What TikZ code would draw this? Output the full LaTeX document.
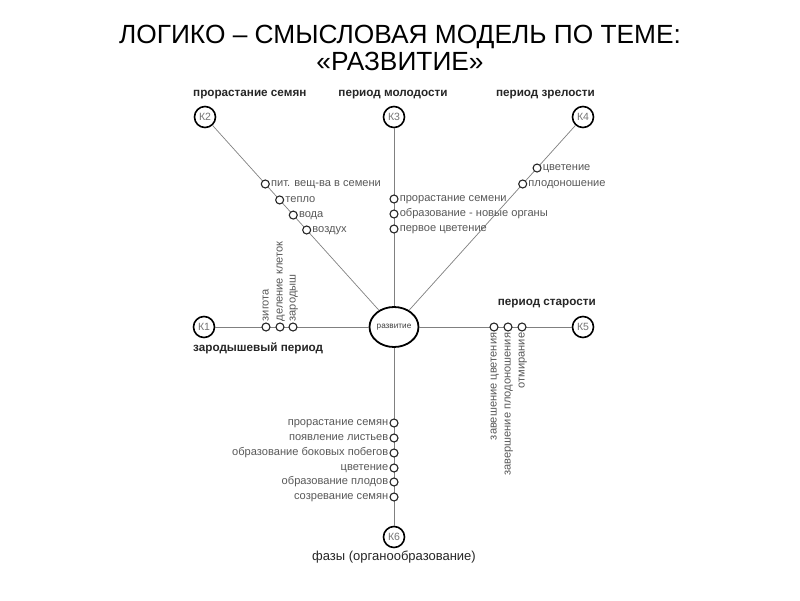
\documentclass[tikz,border=0pt]{standalone}
\usepackage{fontspec}
\setmainfont{Liberation Sans}
\usetikzlibrary{calc,shapes.geometric}
\tikzset{
  knode/.style={circle,draw=black,line width=1.6pt,minimum size=21pt,inner sep=0pt,fill=white,text=black!55,font=\fontsize{10.5}{12}\selectfont},
  dot/.style={circle,draw=black!85,line width=1.1pt,minimum size=8pt,inner sep=0pt,fill=white},
  conn/.style={draw=black!50,line width=0.7pt},
  lbl/.style={text=black!65,font=\fontsize{11.1}{13}\selectfont,inner sep=1pt},
  head/.style={text=black!85,font=\bfseries\fontsize{11.7}{13}\selectfont,inner sep=0pt},
}
\begin{document}
\begin{tikzpicture}[x=1pt,y=-1pt]
\useasboundingbox[fill=white] (0,0) rectangle (800,600);
\node[font=\fontsize{26.3}{27}\selectfont,align=center,text=black] (title) at (400,48) {ЛОГИКО – СМЫСЛОВАЯ МОДЕЛЬ ПО ТЕМЕ:\\«РАЗВИТИЕ»};

\node[ellipse,draw=black,line width=1.8pt,minimum width=46pt,minimum height=40pt,inner sep=0pt,fill=white,font=\fontsize{8.2}{9}\selectfont,text=black!75] (C) at (394,327) {развитие};
\node[knode] (K1) at (204,327) {К1};
\node[knode] (K2) at (205,117) {К2};
\node[knode] (K3) at (394,117) {К3};
\node[knode] (K4) at (583,117) {К4};
\node[knode] (K5) at (583,327) {К5};
\node[knode] (K6) at (394,537) {К6};

\draw[conn] (C) -- (K1);
\draw[conn] (C) -- (K2);
\draw[conn] (C) -- (K3);
\draw[conn] (C) -- (K4);
\draw[conn] (C) -- (K5);
\draw[conn] (C) -- (K6);

% headings
\node[head,anchor=west] (h2) at (193,95) {прорастание семян};
\node[head] (h3) at (393,95) {период молодости};
\node[head,anchor=east] (h4) at (595,95) {период зрелости};
\node[head,anchor=west] (h1) at (193,348) {зародышевый период};
\node[head,anchor=east] (h5) at (596,304) {период старости};
\node[text=black!85,font=\fontsize{13}{15}\selectfont,inner sep=0pt] (h6) at (394,557) {фазы (органообразование)};

% K2 line dots
\node[dot] (a1) at ($(K2)!0.319!(C)$) {};
\node[dot] (a2) at ($(K2)!0.395!(C)$) {};
\node[dot] (a3) at ($(K2)!0.467!(C)$) {};
\node[dot] (a4) at ($(K2)!0.538!(C)$) {};
\node[lbl,anchor=mid west] (la1) at (a1.east) {пит. вещ-ва в семени};
\node[lbl,anchor=mid west] (la2) at (a2.east) {тепло};
\node[lbl,anchor=mid west] (la3) at (a3.east) {вода};
\node[lbl,anchor=mid west] (la4) at (a4.east) {воздух};

% K3 line dots
\node[dot] (b1) at (394,199) {};
\node[dot] (b2) at (394,214) {};
\node[dot] (b3) at (394,229) {};
\node[lbl,anchor=mid west] (lb1) at (b1.east) {прорастание семени};
\node[lbl,anchor=mid west] (lb2) at (b2.east) {образование - новые органы};
\node[lbl,anchor=mid west] (lb3) at (b3.east) {первое цветение};

% K4 line dots
\node[dot] (c1) at ($(K4)!0.243!(C)$) {};
\node[dot] (c2) at ($(K4)!0.319!(C)$) {};
\node[lbl,anchor=mid west] (lc1) at (c1.east) {цветение};
\node[lbl,anchor=mid west] (lc2) at (c2.east) {плодоношение};

% K1 line dots
\node[dot] (d1) at (266,327) {};
\node[dot] (d2) at (280,327) {};
\node[dot] (d3) at (293,327) {};
\node[lbl,rotate=90,anchor=mid west] (ld1) at (d1.north) {зигота};
\node[lbl,rotate=90,anchor=mid west] (ld2) at (d2.north) {деление клеток};
\node[lbl,rotate=90,anchor=mid west] (ld3) at (d3.north) {зародыш};

% K5 line dots
\node[dot] (e1) at (494,327) {};
\node[dot] (e2) at (508,327) {};
\node[dot] (e3) at (522,327) {};
\node[lbl,rotate=90,anchor=mid east] (le1) at (e1.south) {завешение цветения};
\node[lbl,rotate=90,anchor=mid east] (le2) at (e2.south) {завершение плодоношения};
\node[lbl,rotate=90,anchor=mid east] (le3) at (e3.south) {отмирание};

% K6 line dots
\node[dot] (f1) at (394,423) {};
\node[dot] (f2) at (394,438) {};
\node[dot] (f3) at (394,453) {};
\node[dot] (f4) at (394,468) {};
\node[dot] (f5) at (394,482) {};
\node[dot] (f6) at (394,497) {};
\node[lbl,anchor=mid east] (lf1) at (f1.west) {прорастание семян};
\node[lbl,anchor=mid east] (lf2) at (f2.west) {появление листьев};
\node[lbl,anchor=mid east] (lf3) at (f3.west) {образование боковых побегов};
\node[lbl,anchor=mid east] (lf4) at (f4.west) {цветение};
\node[lbl,anchor=mid east] (lf5) at (f5.west) {образование плодов};
\node[lbl,anchor=mid east] (lf6) at (f6.west) {созревание семян};
\end{tikzpicture}
\end{document}
